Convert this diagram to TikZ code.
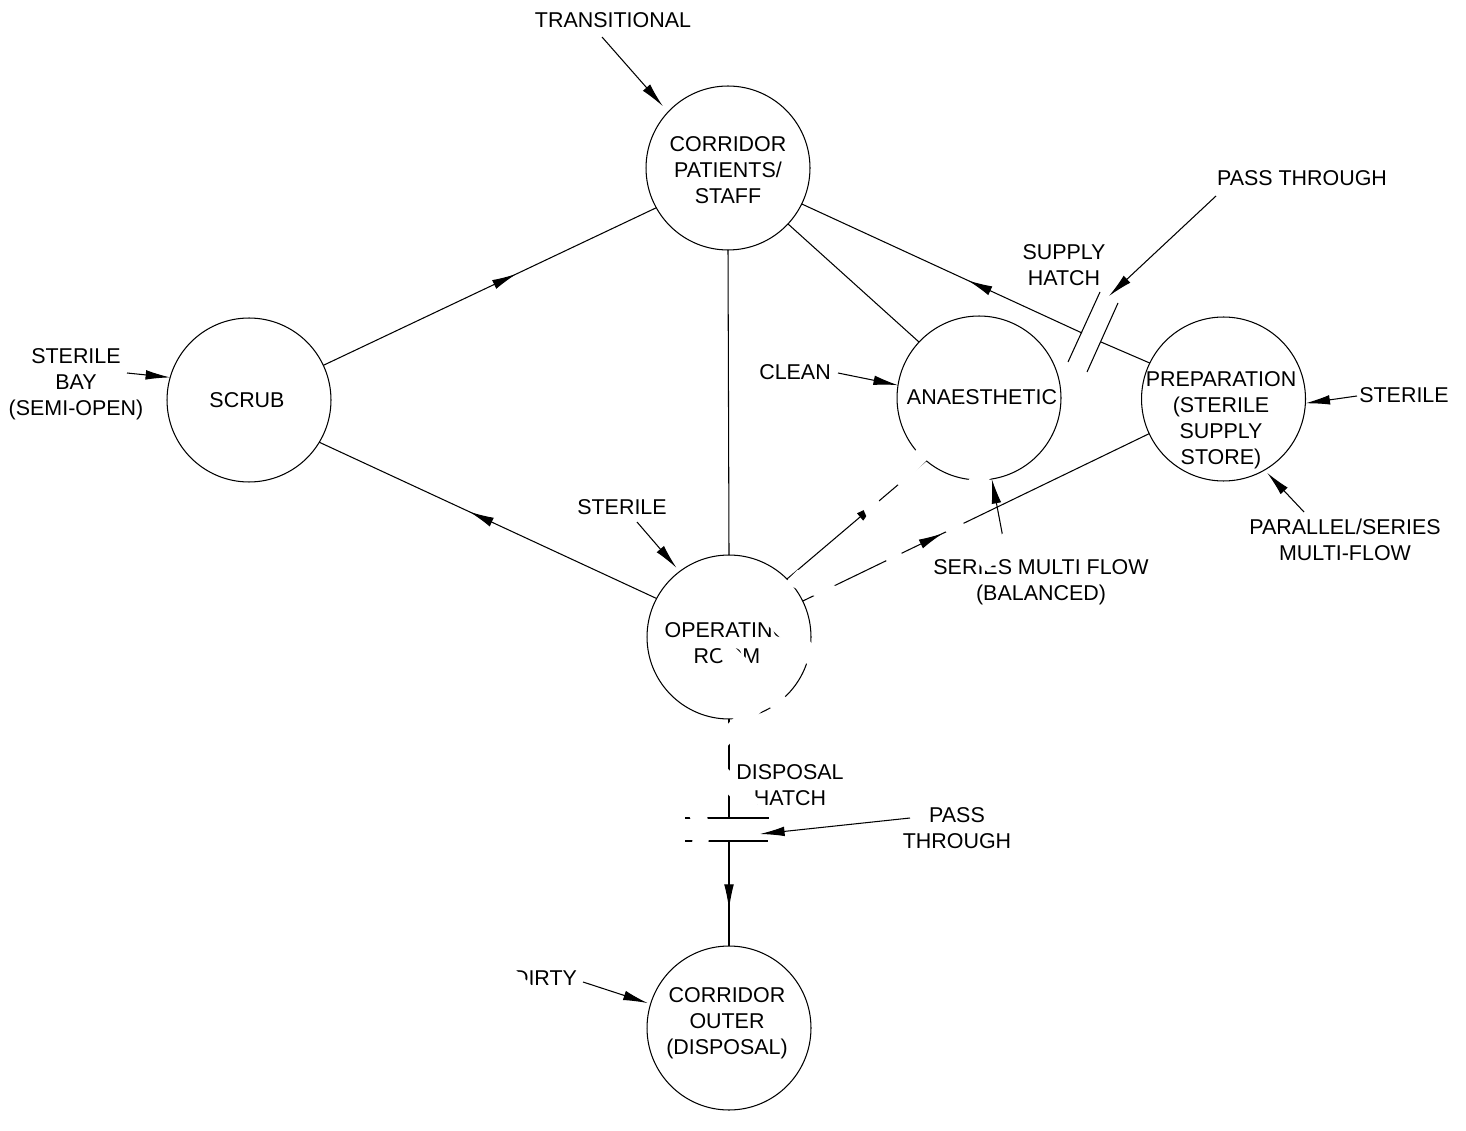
\documentclass[tikz,border=0pt]{standalone}
\usepackage{fontspec}
\setmainfont{Liberation Sans}
\usetikzlibrary{arrows.meta,decorations.markings}
\begin{document}
\begin{tikzpicture}[x=0.02cm,y=-0.02cm,
  room/.style={circle,draw,line width=0.6pt,minimum size=3.28cm,inner sep=0pt,outer sep=0pt},
  txt/.style={align=center,inner sep=0pt,font=\fontsize{12.2}{14.7}\selectfont},
  conn/.style={line width=0.6pt},
  arr/.style={conn,-{Latex[length=14pt,width=5.5pt]}},
  midarrow/.style={conn,postaction={decorate},decoration={markings,mark=at position #1 with {\arrow{Latex[length=14pt,width=5.5pt]}}}},
  hatchline/.style={line width=0.6pt}
]
\fill[white] (0,0) rectangle (1466,1131);
\useasboundingbox (0,0) rectangle (1466,1131);

% rooms
\node[room] (corr)  at (728,168) {};
\node[room] (scrub) at (249,400) {};
\node[room] (anaes) at (979,398) {};
\node[room] (prep)  at (1223.5,399) {};
\node[room] (or)    at (729,637) {};
\node[room] (outer) at (729,1028) {};

% room texts
\node[txt] (tcorr)  at (728,170) {CORRIDOR\\PATIENTS/\\STAFF};
\node[txt] (tscrub) at (247,400) {SCRUB};
\node[txt] (tanaes) at (982,397) {ANAESTHETIC};
\node[txt] (tprep)  at (1221,420) {PREPARATION\\(STERILE\\SUPPLY\\STORE)};
\node[txt] (tor)    at (727,643) {OPERATING\\ROOM};
\node[txt] (touter) at (727,1023) {CORRIDOR\\OUTER\\(DISPOSAL)};

% labels
\node[txt] (lTrans)  at (613,20)   {TRANSITIONAL};
\node[txt] (lPass1)  at (1302,178) {PASS THROUGH};
\node[txt] (lSupply) at (1064,265) {SUPPLY\\HATCH};
\node[txt] (lBay)    at (76,384)   {STERILE\\BAY\\(SEMI-OPEN)};
\node[txt] (lClean)  at (795,372)  {CLEAN};
\node[txt] (lSterR)  at (1404,395) {STERILE};
\node[txt] (lPar)    at (1345,540) {PARALLEL/SERIES\\MULTI-FLOW};
\node[txt] (lSterOR) at (622,507)  {STERILE};
\node[txt] (lSeries) at (1041,582) {SERIES MULTI FLOW\\(BALANCED)};
\node[txt] (lDisp)   at (790,785)  {DISPOSAL\\HATCH};
\node[txt] (lPass2)  at (957,828)  {PASS\\THROUGH};
\node[txt] (lDirty)  at (545,978)  {DIRTY};

% free ends
\coordinate (sTrans)  at (602,37);
\coordinate (sBay)    at (127,373);
\coordinate (sClean)  at (838,373);
\coordinate (sSterR)  at (1357,396);
\coordinate (sPar)    at (1304,512);
\coordinate (sSterOR) at (637,522);
\coordinate (sDirty)  at (583,982);
\coordinate (sSeries) at (1004,543);
\coordinate (sPass1)  at (1216,196);
\coordinate (ePass1)  at (1109,296);
\coordinate (sPass2)  at (910,818);
\coordinate (ePass2)  at (760,834);
\coordinate (hA) at (1082,333);
\coordinate (hB) at (1101,342);
\coordinate (dA) at (729,818);
\coordinate (dB) at (729,841);

% connectors between rooms
\draw[midarrow=0.58] (scrub.25) -- (corr.209);
\draw[midarrow=0.555] (or.152) -- (scrub.329.4);
\draw[conn] (corr.270) -- (or.90);
\draw[conn] (corr.317.4) -- (anaes.137.9);
\draw[conn] (prep.154.5) -- (hB);
\draw[midarrow=0.407] (hA) -- (corr.334.6);
\draw[midarrow=0.66] (or.45) -- (anaes.230);
\draw[midarrow=0.405] (or.26.6) -- (prep.205.5);
\draw[conn] (or.270) -- (dA);
\draw[midarrow=0.648] (dB) -- (outer.90);

% supply hatch
\draw[hatchline] (1100,292) -- (1068,362);
\draw[hatchline] (1118,303) -- (1087,372);
% disposal hatch
\draw[hatchline] (685,818) -- (769,818);
\draw[hatchline] (685,841) -- (768,841);

% label arrows
\draw[arr,shorten >=0.16cm] (sTrans) -- (corr.137.3);
\draw[arr] (sBay) -- (scrub.164);
\draw[arr] (sClean) -- (anaes.171);
\draw[arr] (sSterR) -- (prep.357);
\draw[arr,shorten >=0.08cm] (sPar) -- (prep.300.5);
\draw[arr,shorten >=0.1cm] (sSterOR) -- (or.127.5);
\draw[arr,shorten >=0.06cm] (sDirty) -- (outer.163.7);
\draw[arr] (sSeries) -- (anaes.279);
\draw[arr] (sPass1) -- (ePass1);
\draw[arr] (sPass2) -- (ePass2);

% watermark
\node[white,inner sep=0pt,rotate=45.5,font=\fontsize{112}{112}\selectfont] (wm) at (704.6,762.8) {A\kern2.27pt R\kern2.27pt C\kern2.27pt H\kern2.27pt I\kern2.27pt V\kern2.27pt E};
\end{tikzpicture}
\end{document}
